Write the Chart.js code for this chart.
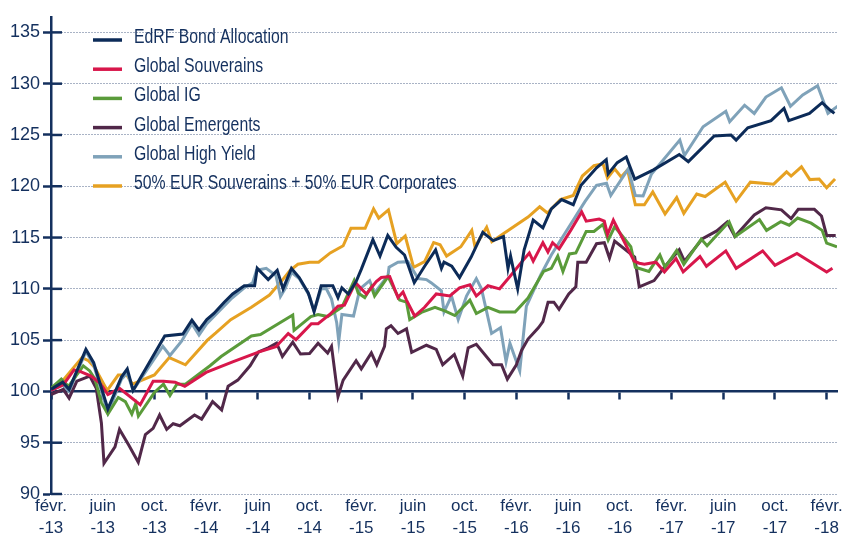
<!DOCTYPE html>
<html lang="fr">
<head>
<meta charset="utf-8">
<script src="https://cdn.jsdelivr.net/npm/chart.js@4.4.1/dist/chart.umd.min.js"></script>
<style>
  html, body { margin: 0; padding: 0; background: #fff; }
</style>
</head>
<body>
<canvas id="perfChart" width="843" height="540"></canvas>
<script>
// x = mois depuis févr. 2013, y = base 100
const tickLabels = [
    ['févr.', '-13'], ['juin', '-13'], ['oct.', '-13'],
    ['févr.', '-14'], ['juin', '-14'], ['oct.', '-14'],
    ['févr.', '-15'], ['juin', '-15'], ['oct.', '-15'],
    ['févr.', '-16'], ['juin', '-16'], ['oct.', '-16'],
    ['févr.', '-17'], ['juin', '-17'], ['oct.', '-17'],
    ['févr.', '-18']
];

const edrf = [[0,100.2],[0.9,100.9],[1.4,100.2],[2.7,104.1],[3.3,102.8],[4.4,98.3],[5.45,101.4],[5.9,102.2],[6.35,100.1],[8.8,105.4],[10.2,105.6],[10.9,106.95],[11.45,106.0],[12.05,107.0],[12.6,107.6],[13.4,108.7],[14.05,109.5],[14.95,110.3],[15.75,110.3],[15.95,112.0],[16.8,110.9],[17.5,111.8],[17.95,110.0],[18.6,112.0],[19.2,111.1],[19.9,109.6],[20.35,107.8],[20.9,110.3],[21.8,110.3],[22.2,109.15],[22.5,110.1],[23.0,109.5],[23.6,110.7],[24.0,111.9],[24.9,114.8],[25.45,113.2],[26.05,115.2],[26.7,114.05],[27.35,113.3],[28.1,110.6],[28.9,112.2],[29.75,113.8],[30.2,112.0],[30.4,112.6],[31.0,112.2],[31.6,111.1],[32.5,113.1],[33.4,115.5],[34.2,114.7],[35.0,115.1],[35.35,112.0],[35.55,113.2],[35.75,112.0],[36.1,110.0],[36.6,113.8],[37.3,116.7],[38.05,115.95],[38.7,117.8],[39.5,118.7],[40.4,118.2],[41.0,120.1],[42.2,121.8],[42.95,122.6],[43.1,121.2],[43.8,122.3],[44.5,122.85],[45.15,120.7],[46.6,121.6],[48.6,123.1],[49.3,122.4],[51.3,124.9],[52.6,125.0],[53.0,124.5],[53.9,125.7],[55.7,126.4],[56.7,127.6],[57.07,126.4],[58.67,127.1],[59.65,128.15],[60.2,127.5],[60.6,127.1]];

const souverains = [[0,100.1],[0.95,100.65],[1.78,102.1],[2.24,101.95],[3.1,101.5],[3.8,100.8],[4.4,99.7],[5.3,100.3],[6.9,98.7],[7.9,101.0],[8.7,101.0],[9.6,100.9],[10.35,100.5],[12.0,101.85],[14.1,102.9],[16.1,103.85],[17.4,104.35],[18.35,105.65],[18.95,105.05],[20.14,106.6],[20.66,106.6],[21.56,107.5],[22.2,108.3],[22.7,108.4],[23.55,110.6],[24.4,109.5],[25.16,110.7],[25.55,111.1],[26.2,111.2],[26.84,109.15],[27.23,109.7],[27.5,108.9],[28.13,107.35],[28.9,108.2],[29.8,109.5],[30.85,109.3],[31.6,110.1],[32.4,110.4],[32.9,109.3],[33.8,110.3],[34.7,110.0],[35.5,111.2],[36.4,112.6],[37.0,113.5],[37.3,112.7],[38.05,114.5],[38.44,113.6],[38.8,114.5],[39.3,113.9],[40.2,115.7],[41.05,117.5],[41.4,116.6],[42.4,116.8],[42.8,116.6],[43.05,115.3],[43.5,116.7],[44.1,115.2],[45.1,112.7],[45.5,112.5],[45.9,112.4],[46.8,112.6],[47.45,111.65],[48.35,112.95],[48.9,111.65],[50.2,113.15],[50.7,112.2],[52.2,113.7],[53.0,112.0],[55.05,113.7],[56.0,112.3],[57.7,113.45],[60.0,111.65],[60.45,112.0]];

const globalIG = [[0,100.3],[0.8,101.2],[1.35,100.5],[2.5,102.5],[3.0,102.0],[3.4,101.2],[3.9,98.9],[4.4,97.8],[5.2,99.4],[5.75,99.0],[6.25,97.8],[6.55,98.8],[6.76,97.6],[8.0,99.9],[8.7,100.7],[9.2,99.6],[9.73,100.7],[10.4,100.7],[12.3,102.5],[13.16,103.4],[15.5,105.4],[16.2,105.55],[18.7,107.45],[18.8,105.95],[20.1,107.3],[20.66,107.5],[21.4,107.3],[22.5,108.2],[23.45,110.8],[23.76,109.6],[24.27,109.15],[24.78,110.2],[25.03,109.3],[26.07,111.2],[26.97,108.9],[27.5,108.7],[27.75,107.0],[28.65,107.7],[29.7,108.2],[30.46,107.85],[31.24,107.4],[32.4,108.9],[32.9,107.6],[33.8,108.2],[34.7,107.75],[35.9,107.75],[36.9,109.1],[38.1,111.7],[38.7,112.0],[39.2,113.2],[39.6,111.7],[40.1,113.4],[40.6,113.5],[41.4,115.6],[42.0,115.6],[42.7,116.3],[43.1,114.75],[43.6,116.05],[44.1,115.3],[44.85,114.1],[45.2,112.1],[46.25,111.7],[47.1,113.3],[47.5,112.1],[48.4,113.75],[48.95,112.4],[50.3,114.85],[50.75,114.2],[52.45,116.55],[52.93,115.1],[54.8,116.75],[55.35,115.7],[56.45,116.55],[57.1,116.2],[57.75,116.9],[58.8,116.4],[59.65,115.7],[60.0,114.45],[60.8,114.1]];

const emergents = [[0,99.7],[0.95,100.2],[1.4,99.35],[2.0,101.0],[3.0,101.5],[3.5,100.3],[3.9,96.9],[4.1,93.0],[4.95,94.6],[5.3,96.3],[6.0,94.8],[6.75,93.1],[7.3,95.8],[7.9,96.4],[8.4,97.7],[8.95,96.3],[9.45,96.85],[9.97,96.65],[11.1,97.7],[11.65,97.3],[12.5,99.0],[13.2,98.2],[13.7,100.5],[14.45,101.1],[15.4,102.5],[16.05,103.85],[16.8,104.25],[17.45,104.7],[17.9,103.4],[18.7,104.8],[19.3,103.65],[20.0,103.7],[20.66,104.7],[21.4,103.75],[21.7,104.4],[22.2,99.5],[22.6,101.1],[23.6,103.0],[24.0,102.2],[24.78,103.75],[25.2,102.6],[25.8,104.4],[25.94,106.1],[26.3,106.4],[26.84,105.65],[27.5,106.1],[27.9,103.8],[29.04,104.5],[29.8,104.1],[30.3,102.6],[31.2,103.6],[31.85,101.5],[32.27,104.25],[32.9,104.6],[34.2,102.6],[34.85,102.6],[35.3,101.2],[36.0,102.6],[36.4,104.0],[36.9,105.1],[37.7,106.2],[38.05,106.8],[38.45,108.7],[38.9,108.7],[39.3,108.0],[40.05,109.5],[40.6,110.2],[40.75,112.6],[41.4,112.6],[42.2,114.4],[42.8,114.5],[43.2,113.0],[43.6,114.65],[45.15,113.1],[45.5,110.2],[46.65,110.8],[47.5,112.2],[48.6,113.8],[49.0,112.7],[50.4,114.9],[51.5,115.65],[52.3,116.5],[52.9,115.1],[54.4,117.2],[55.3,117.9],[56.5,117.7],[57.25,116.85],[57.8,117.75],[59.05,117.75],[59.6,117.1],[60.0,115.2],[60.7,115.2]];

const highYield = [[0,100.1],[0.9,100.6],[1.4,100.0],[2.7,103.9],[3.3,102.6],[4.4,97.9],[5.45,101.2],[5.9,101.8],[6.35,100.1],[8.65,104.4],[9.2,103.5],[10.1,104.9],[10.9,106.6],[11.45,105.5],[12.05,106.6],[12.6,107.3],[14.0,109.1],[14.95,110.1],[15.6,110.6],[15.9,111.8],[16.65,112.0],[17.4,111.3],[17.75,109.25],[18.1,110.0],[18.6,111.6],[19.2,111.0],[20.0,109.3],[20.35,107.8],[20.9,110.0],[21.3,110.0],[21.7,109.0],[22.1,106.7],[22.26,104.9],[22.5,107.5],[23.4,107.35],[23.9,110.0],[24.65,110.8],[25.03,109.6],[26.07,111.3],[26.15,112.1],[26.84,112.6],[27.6,112.65],[28.4,111.0],[29.04,110.9],[29.4,110.6],[30.2,109.8],[30.4,107.75],[30.98,109.3],[31.5,107.0],[32.14,109.3],[32.9,111.0],[33.3,110.0],[34.08,105.65],[34.77,106.2],[35.2,102.9],[35.5,104.7],[36.26,102.0],[36.77,108.3],[37.9,111.4],[38.7,113.3],[39.6,115.1],[40.5,116.9],[41.3,118.5],[42.2,120.1],[42.97,120.3],[43.3,119.1],[44.65,121.7],[45.2,119.1],[45.8,119.05],[46.45,121.2],[48.64,124.5],[49.0,123.0],[50.44,125.8],[52.2,127.3],[52.5,126.3],[53.65,127.9],[54.4,127.1],[55.3,128.7],[56.5,129.6],[57.2,127.8],[58.15,128.9],[59.3,129.8],[60.1,127.1],[60.85,127.8]];

const eurMix = [[0,100.2],[1.0,101.2],[2.4,103.3],[2.9,103.0],[3.4,102.3],[4.35,100.1],[5.2,101.6],[5.86,101.6],[6.3,100.7],[8.0,101.6],[9.15,103.3],[10.4,102.6],[12.1,105.0],[12.75,105.7],[13.9,107.0],[15.5,108.2],[16.9,109.4],[17.8,110.7],[18.5,111.8],[19.1,112.4],[20.0,112.6],[20.7,112.6],[21.6,113.5],[22.6,114.2],[23.2,115.9],[24.3,115.9],[24.95,117.8],[25.35,116.9],[26.1,117.7],[26.75,114.4],[27.4,115.15],[28.05,112.1],[28.9,112.65],[29.6,114.5],[30.1,114.3],[30.6,113.2],[31.7,114.1],[32.55,115.7],[32.8,114.1],[33.7,116.0],[34.1,114.6],[34.9,115.3],[36.9,117.0],[37.8,118.0],[38.4,117.4],[39.4,118.7],[40.4,119.1],[41.1,121.0],[42.0,122.0],[42.7,122.2],[43.05,120.8],[43.6,121.7],[44.1,120.9],[44.6,121.6],[45.2,118.2],[45.9,118.2],[46.55,119.45],[47.5,117.3],[48.4,118.9],[48.95,117.35],[49.95,119.25],[50.6,119.0],[52.15,120.4],[53.0,118.55],[54.1,120.4],[55.9,120.2],[56.9,121.4],[57.25,121.0],[58.05,121.9],[58.7,120.65],[59.42,120.7],[60.0,119.85],[60.65,120.7]];

const navy = '#14305e';
const fontFamily = "'Liberation Sans', Arial, sans-serif";

const series = [
    { label: 'EdRF Bond Allocation', data: edrf, color: '#0c2b58' },
    { label: 'Global Souverains', data: souverains, color: '#d8174b' },
    { label: 'Global IG', data: globalIG, color: '#5a9b3a' },
    { label: 'Global Emergents', data: emergents, color: '#512849' },
    { label: 'Global High Yield', data: highYield, color: '#7fa2b9' },
    { label: '50% EUR Souverains + 50% EUR Corporates', data: eurMix, color: '#e6a122' }
];

// petits traits de graduation côté intérieur de l'axe y
const innerTicks = {
    id: 'innerTicks',
    beforeDatasetsDraw(chart) {
        const { ctx, chartArea, scales } = chart;
        const y = scales.y;
        ctx.save();
        ctx.strokeStyle = navy;
        ctx.lineWidth = 2.5;
        y.ticks.forEach((t, i) => {
            const py = y.getPixelForTick(i);
            ctx.beginPath();
            ctx.moveTo(chartArea.left, py);
            ctx.lineTo(chartArea.left + 11, py);
            ctx.stroke();
        });
        ctx.restore();
    }
};

// légende dans la zone du graphique (texte resserré comme la police d'origine)
const insideLegend = {
    id: 'insideLegend',
    afterDraw(chart) {
        const { ctx, chartArea } = chart;
        ctx.save();
        ctx.font = '20px ' + fontFamily;
        ctx.textBaseline = 'alphabetic';
        chart.data.datasets.forEach((ds, i) => {
            const yLine = chartArea.top + 23 + i * 29.2;
            ctx.strokeStyle = ds.borderColor;
            ctx.lineWidth = 3.5;
            ctx.beginPath();
            ctx.moveTo(chartArea.left + 42, yLine);
            ctx.lineTo(chartArea.left + 71, yLine);
            ctx.stroke();
            ctx.save();
            ctx.translate(chartArea.left + 83, yLine + 3);
            ctx.scale(0.79, 1);
            ctx.fillStyle = navy;
            ctx.fillText(ds.label, 0, 0);
            ctx.restore();
        });
        ctx.restore();
    }
};

const ctx = document.getElementById('perfChart').getContext('2d');
new Chart(ctx, {
    type: 'line',
    data: {
        datasets: series.map(s => ({
            label: s.label,
            data: s.data.map(p => ({ x: p[0], y: p[1] })),
            borderColor: s.color,
            backgroundColor: s.color,
            borderWidth: 3,
            pointRadius: 0,
            tension: 0,
            fill: false
        }))
    },
    options: {
        responsive: false,
        devicePixelRatio: 1,
        animation: false,
        layout: { padding: { top: 17, right: 6, bottom: 0, left: 0 } },
        plugins: {
            legend: { display: false },
            tooltip: { enabled: false }
        },
        scales: {
            x: {
                type: 'linear',
                position: 'bottom',
                min: 0,
                max: 60.8,
                grid: { display: false, drawTicks: false, tickLength: 0 },
                border: { display: false },
                ticks: {
                    stepSize: 4,
                    includeBounds: false,
                    autoSkip: false,
                    maxRotation: 0,
                    padding: 1,
                    color: navy,
                    font: { family: fontFamily, size: 17, lineHeight: 1.3 },
                    callback: v => tickLabels[Math.round(v / 4)]
                },
                afterFit: s => { s.height = 46; s.paddingLeft = 0; s.paddingRight = 0; }
            },
            axe100: {
                type: 'linear',
                axis: 'x',
                position: { y: 100 },
                min: 0,
                max: 60.8,
                grid: { drawOnChartArea: false, drawTicks: true, tickLength: 7, tickWidth: 2.5, tickColor: navy },
                border: { display: true, color: navy, width: 2.5 },
                ticks: { stepSize: 4, includeBounds: false, display: false }
            },
            y: {
                min: 90,
                max: 136.5,
                ticks: {
                    stepSize: 5,
                    includeBounds: false,
                    padding: 3,
                    color: navy,
                    font: { family: fontFamily, size: 18 }
                },
                grid: { color: '#52668a', lineWidth: 1, tickLength: 8, tickColor: navy, tickWidth: 2.5 },
                border: { display: true, color: navy, width: 2.5, dash: [1, 2] },
                afterFit: s => { s.width = 51; }
            }
        }
    },
    plugins: [innerTicks, insideLegend]
});
</script>
</body>
</html>
